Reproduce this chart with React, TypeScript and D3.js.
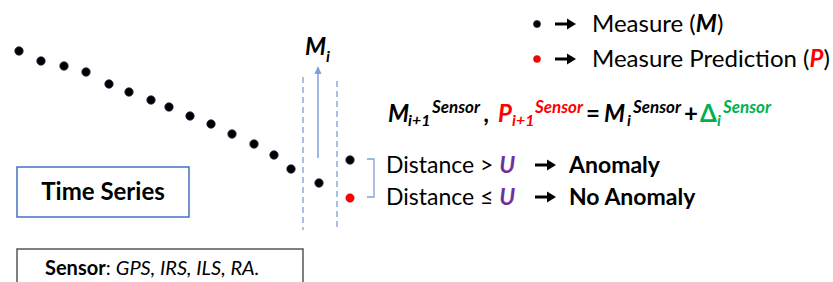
import React from "react";
import * as d3 from "d3";

// time series data (time index, measured value)
const times = [0, 22, 45, 67, 90, 110, 132, 150, 171, 192, 213, 235, 255, 272, 300];
const values = [179, 169, 164, 158, 146, 138, 130, 123, 114, 106, 96, 86, 75, 61, 47];
// next step measure and prediction
const nextTime = [331];
const nextMeasure = [70];
const nextPrediction = [32];

const legendLabels = ["Measure (", "Measure Prediction ("];

const FONT = "Lato, 'Open Sans', sans-serif";

const Arrow = ({ x1, x2, y }: { x1: number; x2: number; y: number }) => (
  <g>
    <line x1={x1} x2={x2 - 7} y1={y} y2={y} stroke="#000" strokeWidth={3} />
    <polygon points={`${x2},${y} ${x2 - 9},${y - 5.5} ${x2 - 9},${y + 5.5}`} fill="#000" />
  </g>
);

type Piece = { t: string; x: number; kind: "main" | "sub" | "sup"; color: string; upright?: boolean };

const formula: Piece[] = [
  { t: "M", x: 388, kind: "main", color: "#000" },
  { t: "i+1", x: 408, kind: "sub", color: "#000" },
  { t: "Sensor", x: 432, kind: "sup", color: "#000" },
  { t: ",", x: 484, kind: "main", color: "#000" },
  { t: "P", x: 498, kind: "main", color: "#FF0000" },
  { t: "i+1", x: 512, kind: "sub", color: "#FF0000" },
  { t: "Sensor", x: 535, kind: "sup", color: "#FF0000" },
  { t: "=", x: 586, kind: "main", color: "#000", upright: true },
  { t: "M", x: 604, kind: "main", color: "#000" },
  { t: "i", x: 627, kind: "sub", color: "#000" },
  { t: "Sensor", x: 633, kind: "sup", color: "#000" },
  { t: "+", x: 684, kind: "main", color: "#000", upright: true },
  { t: "Δ", x: 700, kind: "main", color: "#00B050", upright: true },
  { t: "i", x: 717, kind: "sub", color: "#00B050" },
  { t: "Sensor", x: 723, kind: "sup", color: "#00B050" },
];

export default function App() {
  const x = d3.scaleLinear().domain([0, 300]).range([19, 319]);
  const y = d3.scaleLinear().domain([0, 230]).range([230, 0]);
  const blue = "#4472C4";
  const light = "#7F9FDA";

  const fy = { main: 122, sub: 126, sup: 113 };
  const fs = { main: 24, sub: 16, sup: 16.5 };
  const fw = { sup: 48 };

  return (
    <svg
      width={833}
      height={282}
      style={{ position: "absolute", left: 0, top: 0, background: "#fff" }}
      fontFamily={FONT}
    >
      {/* dashed guides */}
      <line x1={303} x2={303} y1={77} y2={230} stroke={light} strokeWidth={1.3} strokeDasharray="6,4" />
      <line x1={337} x2={337} y1={81} y2={230} stroke={light} strokeWidth={1.3} strokeDasharray="6,4" />
      {/* up arrow */}
      <line x1={318} x2={318} y1={158} y2={72} stroke={light} strokeWidth={1.5} />
      <polygon points="318,66 314.5,74 321.5,74" fill={light} />
      <text x={305} y={55} fontSize={24} fontWeight="bold" fontStyle="italic" fill="#000">
        M<tspan fontSize={16} dy={7}>i</tspan>
      </text>

      {/* series points */}
      {times.map((t, i) => (
        <circle key={i} cx={x(t)} cy={y(values[i])} r={4.2} fill="#000" stroke="#1F2A4A" strokeWidth={0.8} />
      ))}
      {nextTime.map((t, i) => (
        <g key={"n" + i}>
          <circle cx={x(t)} cy={y(nextMeasure[i])} r={4.2} fill="#000" stroke="#1F2A4A" strokeWidth={0.8} />
          <circle cx={x(t)} cy={y(nextPrediction[i])} r={4.2} fill="#FF0000" stroke="#C00000" strokeWidth={0.5} />
        </g>
      ))}

      {/* bracket */}
      <path d="M367,159 H374 V197 H367" fill="none" stroke={light} strokeWidth={1.3} />

      {/* distance texts */}
      <text x={386} y={173} fontSize={23} fill="#000">
        Distance &gt; <tspan fill="#7030A0" fontWeight="bold" fontStyle="italic">U</tspan>
      </text>
      <Arrow x1={535} x2={556} y={165} />
      <text x={569} y={173} fontSize={23} fontWeight="bold" fill="#000">Anomaly</text>
      <text x={386} y={205} fontSize={23} fill="#000">
        Distance ≤ <tspan fill="#7030A0" fontWeight="bold" fontStyle="italic">U</tspan>
      </text>
      <Arrow x1={535} x2={556} y={197} />
      <text x={569} y={205} fontSize={23} fontWeight="bold" fill="#000">No Anomaly</text>

      {/* legend */}
      <circle cx={537} cy={24} r={3.5} fill="#000" stroke="#1F2A4A" strokeWidth={0.8} />
      <Arrow x1={555} x2={576} y={24} />
      <text x={592} y={32} fontSize={24} fill="#000">
        {legendLabels[0]}<tspan fontWeight="bold" fontStyle="italic">M</tspan>)
      </text>
      <circle cx={537} cy={59} r={3.5} fill="#FF0000" stroke="#C00000" strokeWidth={0.5} />
      <Arrow x1={555} x2={576} y={59} />
      <text x={592} y={67} fontSize={24} fill="#000">
        {legendLabels[1]}<tspan fontWeight="bold" fontStyle="italic" fill="#FF0000">P</tspan>)
      </text>

      {/* formula */}
      <g fontWeight="bold">
        {formula.map((p, i) => (
          <text
            key={i}
            x={p.x}
            y={fy[p.kind]}
            fontSize={fs[p.kind]}
            fontStyle={p.upright ? "normal" : "italic"}
            fill={p.color}
            textLength={p.kind === "sup" ? fw.sup : undefined}
            lengthAdjust="spacingAndGlyphs"
          >
            {p.t}
          </text>
        ))}
      </g>

      {/* Time Series box */}
      <rect x={17} y={167} width={172} height={50} fill="none" stroke={blue} strokeWidth={1.5} />
      <text x={103} y={200} fontSize={24} fontWeight="bold" textAnchor="middle" fill="#000">Time Series</text>

      {/* Sensor box */}
      <rect x={17} y={249} width={286} height={45} fill="none" stroke="#555" strokeWidth={1.5} />
      <text x={45} y={275} fontSize={20} fill="#000">
        <tspan fontWeight="bold">Sensor</tspan>: <tspan fontStyle="italic">GPS, IRS, ILS, RA.</tspan>
      </text>
    </svg>
  );
}
